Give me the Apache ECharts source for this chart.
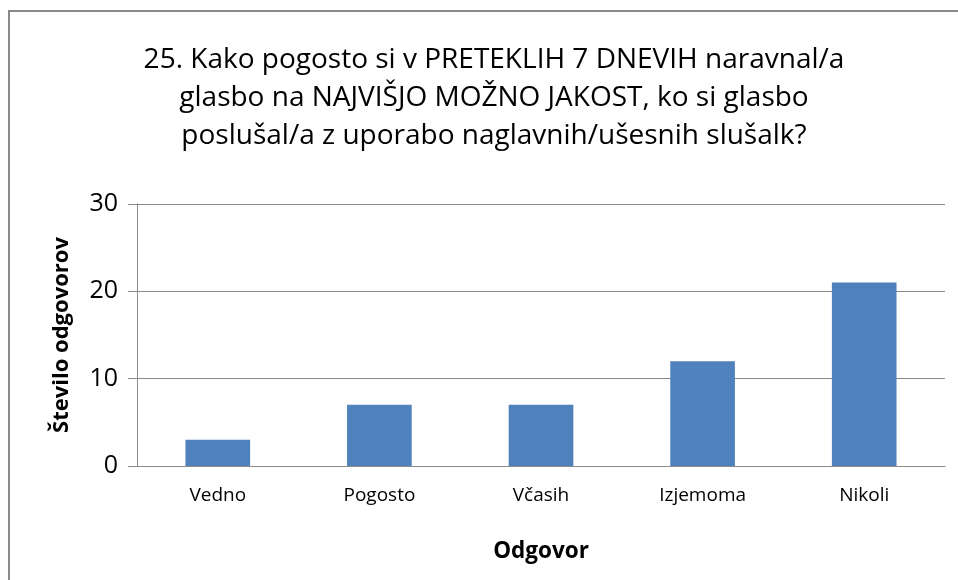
<!DOCTYPE html>
<html>
<head>
<meta charset="utf-8">
<script src="https://cdn.jsdelivr.net/npm/echarts@6/dist/echarts.min.js"></script>
<style>
  html, body { margin: 0; padding: 0; background: #fff; }
  #chart { width: 958px; height: 580px; }
</style>
</head>
<body>
<div id="chart"></div>
<script>
// Answer categories and number of responses per category
const categories = ['Vedno', 'Pogosto', 'Včasih', 'Izjemoma', 'Nikoli'];
const counts = [3, 7, 7, 12, 21];
const yTicks = { min: 0, max: 30, interval: 10 };

const titleLines = [
  '25. Kako pogosto si v PRETEKLIH 7 DNEVIH naravnal/a',
  'glasbo na NAJVIŠJO MOŽNO JAKOST, ko si glasbo',
  'poslušal/a z uporabo naglavnih/ušesnih slušalk?'
];

const FONT = '"Open Sans", "Noto Sans", sans-serif';
const chart = echarts.init(document.getElementById('chart'));

chart.setOption({
  animation: false,
  backgroundColor: '#fff',
  title: {
    text: titleLines.join('\n'),
    left: 489,
    top: 36,
    textAlign: 'center',
    textStyle: {
      fontFamily: FONT,
      fontSize: 28,
      fontWeight: 'normal',
      color: '#000',
      lineHeight: 38
    }
  },
  graphic: [{
    type: 'rect',
    shape: { x: 9, y: 11, width: 970, height: 600 },
    style: { fill: 'none', stroke: '#8a8a8a', lineWidth: 2 },
    silent: true
  }],
  grid: { left: 137, right: 13, top: 204, bottom: 114 },
  xAxis: {
    type: 'category',
    data: categories,
    name: 'Odgovor',
    nameLocation: 'middle',
    nameGap: 74,
    nameTextStyle: { fontFamily: FONT, fontSize: 22.5, fontWeight: 'bold', color: '#000' },
    axisLine: { lineStyle: { color: '#8a8a8a', width: 1 } },
    axisTick: { show: false },
    axisLabel: { fontFamily: FONT, fontSize: 19, color: '#000', margin: 20 }
  },
  yAxis: {
    type: 'value',
    min: yTicks.min,
    max: yTicks.max,
    interval: yTicks.interval,
    name: 'Število odgovorov',
    nameLocation: 'middle',
    nameGap: 64,
    nameRotate: 90,
    nameTextStyle: { fontFamily: FONT, fontSize: 22, fontWeight: 'bold', color: '#000' },
    axisLine: { show: true, lineStyle: { color: '#8a8a8a', width: 1 } },
    axisTick: { show: true, inside: false, length: 9, lineStyle: { color: '#8a8a8a' } },
    axisLabel: { fontFamily: FONT, fontSize: 25, color: '#000', margin: 19 },
    splitLine: { lineStyle: { color: '#8a8a8a', width: 1 } }
  },
  series: [{
    type: 'bar',
    data: counts,
    barWidth: '40%',
    itemStyle: { color: '#4f81bd' }
  }]
});
</script>
</body>
</html>
